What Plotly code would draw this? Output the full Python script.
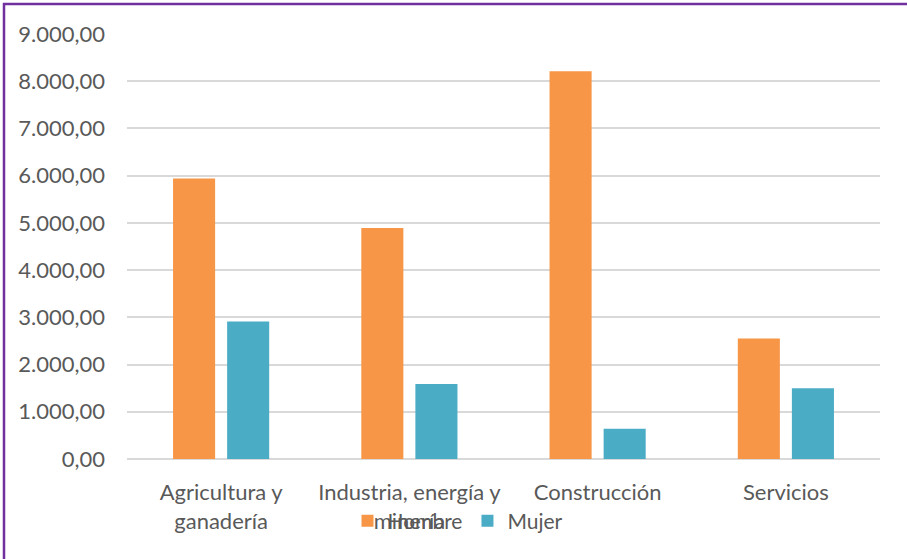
import plotly.graph_objects as go

# Sector data by sex
categorias = ["Agricultura y<br>ganadería", "Industria, energía y<br>minería", "Construcción", "Servicios"]
hombre = [5940, 4890, 8210, 2550]
mujer = [2910, 1590, 640, 1500]
y_ticks = [0, 1000, 2000, 3000, 4000, 5000, 6000, 7000, 8000, 9000]

W, H = 907, 559
ML, MR, MT, MB = 127, 27, 34, 100
PW, PH = W - ML - MR, H - MT - MB

ORANGE = "#F79646"
TEAL = "#4BACC6"
TEXT = "#595959"
GRID = "#D9D9D9"
FONT = "Lato, Carlito, Calibri, sans-serif"

fig = go.Figure()
fig.add_trace(go.Bar(name="Hombre", x=categorias, y=hombre,
                     marker=dict(color=ORANGE, line=dict(width=0))))
fig.add_trace(go.Bar(name="Mujer", x=categorias, y=mujer,
                     marker=dict(color=TEAL, line=dict(width=0))))

def px_x(p):
    return (p - ML) / PW

def px_y(p):
    return (H - MB - p) / PH

# purple frame along the top and left edges
fig.add_shape(type="rect", xref="paper", yref="paper",
              x0=px_x(4), x1=px_x(W + 10), y0=px_y(H + 10), y1=px_y(4),
              line=dict(color="#7030A0", width=2.5), fillcolor="rgba(0,0,0,0)",
              layer="above")

fig.update_layout(
    width=W, height=H,
    margin=dict(l=ML, r=MR, t=MT, b=MB),
    paper_bgcolor="white", plot_bgcolor="white",
    barmode="group", bargap=0.4255, bargroupgap=0.222,
    separators=",.",
    font=dict(family=FONT, size=21, color=TEXT),
    showlegend=True,
    legend=dict(orientation="h", x=px_x(458), xanchor="center",
                y=px_y(521), yanchor="middle",
                font=dict(family=FONT, size=21, color=TEXT),
                bgcolor="rgba(0,0,0,0)", itemsizing="constant",
                itemwidth=30, traceorder="normal"),
    xaxis=dict(showgrid=False, showline=False, ticks="",
               tickfont=dict(family=FONT, size=22, color=TEXT),
               ticklabelstandoff=18, fixedrange=True),
    yaxis=dict(range=[0, 9000], tickvals=y_ticks, tickformat=",.2f",
               showgrid=True, gridcolor=GRID, gridwidth=1.5,
               zeroline=True, zerolinecolor=GRID, zerolinewidth=1.5,
               showline=False, ticks="",
               tickfont=dict(family=FONT, size=22, color=TEXT),
               ticklabelstandoff=21, fixedrange=True),
)

fig.write_html("out.html")
